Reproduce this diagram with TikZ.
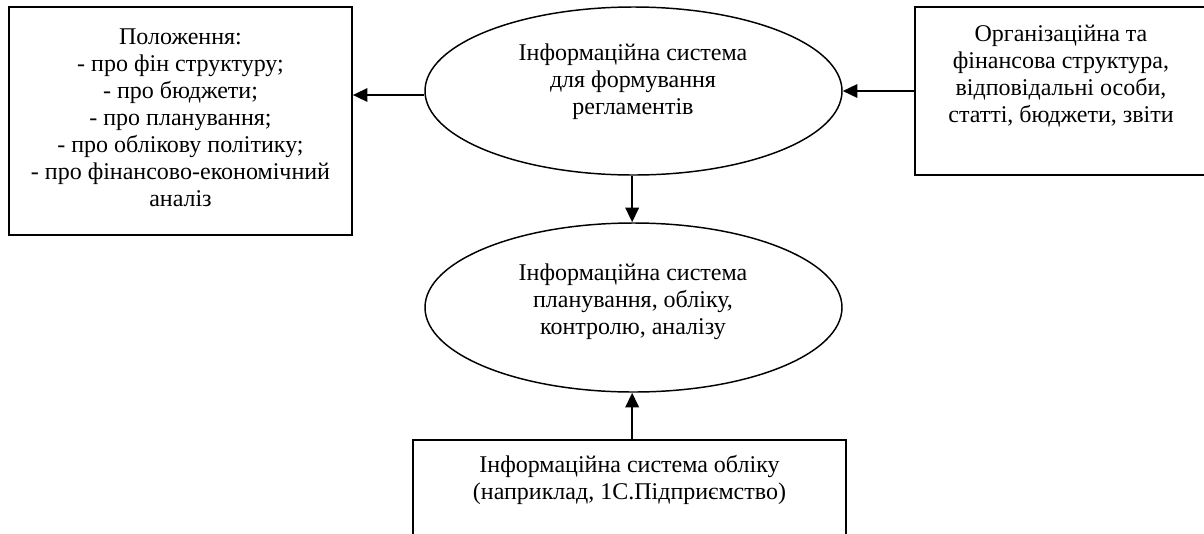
\documentclass[tikz,border=0pt]{standalone}
\usepackage{fontspec}
\setmainfont{Liberation Serif}
\usetikzlibrary{arrows.meta,shapes.geometric}
\begin{document}
\begin{tikzpicture}[x=0.75pt,y=-0.75pt,
  box/.style={draw,line width=1.2pt,rectangle,inner sep=0pt},
  oval/.style={draw,line width=1.1pt,ellipse,inner sep=0pt},
  txt/.style={align=center,font=\fontsize{18}{20.3}\selectfont,inner sep=0pt},
  arr/.style={line width=1.8pt,-{Triangle[length=11pt,width=10pt]}}]
\useasboundingbox (0,0) rectangle (1204,533);
\clip (0,0) rectangle (1204,533);
% shapes
\node[box,minimum width=257.25pt,minimum height=171pt] (lbox) at (180.5,121) {};
\node[oval,minimum width=312.75pt,minimum height=126pt] (top) at (633.5,91) {};
\node[oval,minimum width=312.75pt,minimum height=126.75pt] (bot) at (633.5,307.5) {};
\node[box,minimum width=219pt,minimum height=126pt] (rbox) at (1061,91) {};
\node[box,minimum width=324.75pt,minimum height=97.5pt] (acct) at (629.5,505) {};
% texts
\node[txt] (lt) at (180.5,118) {Положення:\\- про фін структуру;\\- про бюджети;\\- про планування;\\- про облікову політику;\\- про фінансово-економічний\\аналіз};
\node[txt] (tt) at (633,82) {Інформаційна система\\для формування\\регламентів};
\node[txt] (rt) at (1061,76) {Організаційна та\\фінансова структура,\\відповідальні особи,\\статті, бюджети, звіти};
\node[txt] (bt) at (633,302) {Інформаційна система\\планування, обліку,\\контролю, аналізу};
\node[txt] (at) at (629.5,480) {Інформаційна система обліку\\(наприклад, 1С.Підприємство)};
% connectors
\draw[arr] ([yshift=-3pt]top.west) -- ([yshift=-3pt]top.west -| lbox.east);
\draw[arr] (rbox.west |- top.east) -- (top.east);
\draw[arr] ([xshift=-1pt]top.south) -- ([xshift=-1pt]bot.north);
\draw[arr] ([xshift=-1pt]bot.south |- acct.north) -- ([xshift=-1pt]bot.south);
\end{tikzpicture}
\end{document}
